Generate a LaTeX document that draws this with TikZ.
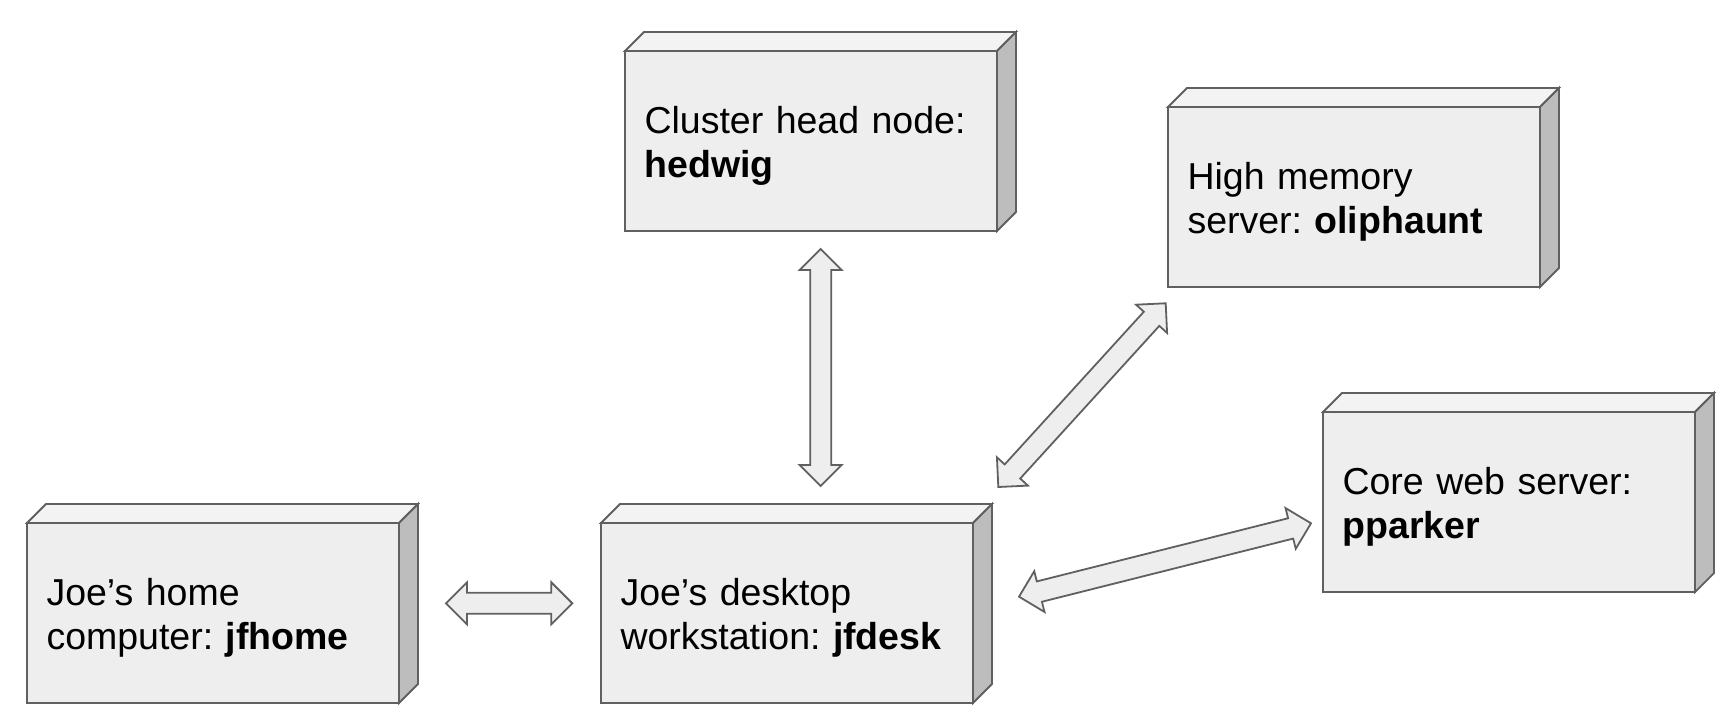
\documentclass[tikz,border=0pt]{standalone}
\usepackage{fontspec}
\setmainfont{Liberation Sans}
\frenchspacing
\usepackage{xcolor}
\usepackage{tikz}
\usetikzlibrary{calc}
\definecolor{edgegray}{HTML}{606060}
\definecolor{frontgray}{HTML}{EEEEEE}
\definecolor{topgray}{HTML}{F3F3F3}
\definecolor{sidegray}{HTML}{BDBDBD}
\tikzstyle{server} = [rectangle, draw=edgegray, fill=frontgray, line width=1.8pt, outer sep=0pt, minimum width=372pt, minimum height=180pt, text width=333pt, inner xsep=19.5pt, align=left, anchor=north west, font=\fontsize{37.5}{44}\selectfont, execute at begin node=\rule{0pt}{36pt}]
\tikzstyle{topface} = [draw=edgegray, fill=topgray, line width=1.8pt]
\tikzstyle{sideface} = [draw=edgegray, fill=sidegray, line width=1.8pt]
\tikzstyle{link} = [draw=edgegray, fill=frontgray, line width=1.8pt]
% fat double arrow between two points
\newcommand{\fatarrow}[2]{%
\path [link] (#1) -- ($(#1)!21pt!(#2)!21pt!90:(#2)$) -- ($(#1)!21pt!(#2)!10.5pt!90:(#2)$)
 -- ($(#2)!21pt!(#1)!10.5pt!-90:(#1)$) -- ($(#2)!21pt!(#1)!21pt!-90:(#1)$) -- (#2)
 -- ($(#2)!21pt!(#1)!21pt!90:(#1)$) -- ($(#2)!21pt!(#1)!10.5pt!90:(#1)$)
 -- ($(#1)!21pt!(#2)!10.5pt!-90:(#2)$) -- ($(#1)!21pt!(#2)!21pt!-90:(#2)$) -- cycle;}

\begin{document}
\begin{tikzpicture}[x=1pt, y=1pt]
\useasboundingbox (0,0) rectangle (1734,718);
\node [server] (hedwig) at (625,667) {Cluster head node:\\\textbf{hedwig}};
\node [server] (oliphaunt) at (1168,611) {High memory\\server: \textbf{oliphaunt}};
\node [server] (pparker) at (1323,306) {Core web server:\\\textbf{pparker}};
\node [server] (jfhome) at (27,195) {Joe’s home\\computer: \textbf{jfhome}};
\node [server] (jfdesk) at (601,195) {Joe’s desktop\\workstation: \textbf{jfdesk}};
% box depth
\foreach \n in {hedwig,oliphaunt,pparker,jfhome,jfdesk} {
  \path [topface] (\n.north west) -- ++(19,19) -- ([shift={(19,19)}]\n.north east) -- (\n.north east) -- cycle;
  \path [sideface] (\n.north east) -- ++(19,19) -- ([shift={(19,19)}]\n.south east) -- (\n.south east) -- cycle;
}
\coordinate (jh-a) at (446,114.7);
\coordinate (jh-b) at (572.3,114.7);
\coordinate (hw-a) at (820.7,469);
\coordinate (hw-b) at (820.7,232);
\coordinate (ol-a) at (1165.7,414.7);
\coordinate (ol-b) at (998.3,231);
\coordinate (pp-a) at (1311,194.7);
\coordinate (pp-b) at (1019,121.3);
\fatarrow{jh-a}{jh-b}
\fatarrow{hw-a}{hw-b}
\fatarrow{ol-a}{ol-b}
\fatarrow{pp-a}{pp-b}
\end{tikzpicture}
\end{document}
